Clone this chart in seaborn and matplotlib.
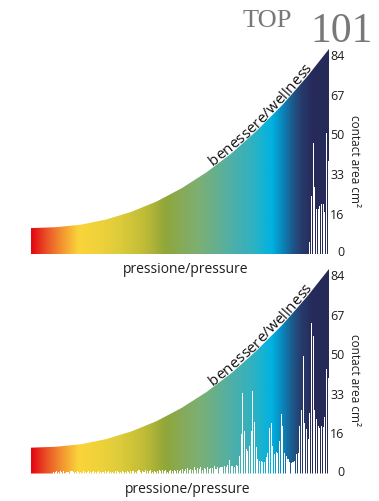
import numpy as np
import pandas as pd
import matplotlib
matplotlib.use("Agg")
import matplotlib.pyplot as plt
import matplotlib.transforms as mtransforms
from matplotlib.colors import LinearSegmentedColormap
from matplotlib.font_manager import FontProperties
import seaborn as sns

# ---------------- data ----------------
n_bins = 178  # pressure classes across the scale
tick_values = [0, 16, 33, 50, 67, 84]
tick_labels = ["0", "16", "33", "50", "67", "84"]
y_label = "contact area cm\u00b2"
x_label = "pressione/pressure"
curve_label = "benessere/wellness"

# envelope of the coloured scale (bin position, height in cm2)
envelope_pos = [-0.5, 14.5, 29.5, 44.5, 59.5, 74.5, 89.5, 104.5, 119.5, 134.5, 149.5, 164.5, 177.5]
envelope_val = [11.1, 11.5, 12.6, 14.8, 18.1, 22.5, 28.2, 35.1, 43.3, 53.0, 63.8, 76.1, 87.9]

# top mattress: contact area only in the highest pressure classes (bins 166..177)
top_contact = [0.0] * 166 + [5.0, 25.0, 47.6, 28.6, 19.3, 19.3, 20.7, 21.4, 21.4, 17.9, 51.7, 40.0]

# bottom mattress: contact area spread over the whole pressure range
bottom_contact = (
    [0.0] * 13
    + [0.8, 0.6, 1.0, 0.5, 0.9, 0.7, 1.1, 0.4, 0.8, 0.6,
       0.9, 1.0, 0.5, 0.7, 1.2, 0.6, 0.8, 0.4, 0.9, 0.7,
       0.5, 1.0, 0.6, 0.8, 0.9, 0.5, 0.7, 1.1, 0.6, 0.8,
       0.5, 0.9, 0.7, 1.0, 0.6, 0.8, 0.4, 0.9, 1.0, 0.6,
       0.7, 0.9, 0.5, 0.8, 1.0, 0.7, 0.9]
    + [0.9, 1.2, 0.7, 1.0, 1.4, 0.8, 1.1, 0.6, 1.3, 0.9,
       1.0, 1.5, 0.8, 1.2, 0.7, 1.1, 1.4, 0.9, 1.3, 1.0,
       1.6, 0.8, 1.2, 1.5, 1.0, 1.3, 0.9, 1.6, 1.2]
    + [1.5, 2.0, 1.2, 1.8, 2.4, 1.4, 2.1, 1.7, 2.6, 1.5,
       2.2, 1.9, 2.8, 1.6, 2.3, 2.0, 2.9, 1.8, 2.5, 2.2,
       3.1, 1.9, 2.7, 2.4, 3.0, 2.6, 3.3, 2.8, 3.5]
    + [6.0, 3.3, 3.3, 2.8, 3.7, 3.2, 7.6, 16.9, 34.6, 18.3,
       10.4, 9.7, 11.9, 18.3, 35.4, 22.0, 11.2, 6.2, 5.4, 5.2,
       4.8, 4.8, 6.9, 9.0, 19.7, 21.9, 11.9, 8.3, 9.3, 9.0,
       14.0, 25.4, 20.4, 9.0, 7.6, 6.2, 4.8, 4.5, 4.8, 5.4,
       8.3, 9.0, 20.4, 27.5, 50.3, 21.9, 19.0, 14.7, 26.0, 64.5,
       58.9, 27.5, 23.3, 20.4, 19.7, 20.4, 20.0, 24.5, 45.0, 41.0]
)

# ---------------- style ----------------
sns.set_theme(style="white")
plt.rcParams["font.family"] = ["Open Sans", "DejaVu Sans"]

W, H = 379, 502
fig = plt.figure(figsize=(W / 100, H / 100), dpi=100)
fig.patch.set_facecolor("white")

grad_cmap = LinearSegmentedColormap.from_list(
    "scale",
    [(0.000, "#e30613"), (0.047, "#ea4e26"), (0.097, "#f28f30"), (0.158, "#fbd43a"),
     (0.232, "#eed23b"), (0.300, "#dccb3a"), (0.380, "#c0bc37"), (0.450, "#90a739"),
     (0.517, "#84ab5e"), (0.567, "#7cb074"), (0.668, "#52afa5"), (0.752, "#2cb2c4"),
     (0.809, "#00b2e2"), (0.846, "#0a86bb"), (0.879, "#1c5a8c"), (0.909, "#263c6c"),
     (0.943, "#262b5b"), (1.000, "#262a58")])

ymax = envelope_val[-1]


def px_axes(top_px, bottom_px):
    return fig.add_axes([31 / W, 1 - bottom_px / H, 298 / W, (bottom_px - top_px) / H])


def draw_panel(ax, contact):
    poly = ax.fill_between(envelope_pos, 0, envelope_val, facecolor="none",
                           edgecolor="none")
    grad = np.linspace(0, 1, 600).reshape(1, -1)
    im = ax.imshow(grad, extent=(envelope_pos[0], envelope_pos[-1], 0, ymax),
                   aspect="auto", cmap=grad_cmap, interpolation="bilinear",
                   zorder=1, origin="lower")
    im.set_clip_path(poly.get_paths()[0], transform=ax.transData)

    df = pd.DataFrame({"bin": np.arange(n_bins), "contact": contact})
    sns.barplot(data=df, x="bin", y="contact", color="white", saturation=1,
                width=0.62, linewidth=0, errorbar=None, native_scale=True,
                ax=ax, zorder=3)

    ax.set_xlim(envelope_pos[0], envelope_pos[-1])
    ax.set_ylim(0, ymax)
    ax.set_xticks([])
    ax.set_xlabel("")
    for s in ax.spines.values():
        s.set_visible(False)
    ax.yaxis.tick_right()
    ax.set_yticks(tick_values)
    ax.set_yticklabels(tick_labels)
    ax.tick_params(axis="y", length=0, pad=11.2, labelsize=9, labelcolor="#1e1e1e")
    off = mtransforms.ScaledTranslation(0, 0.04, fig.dpi_scale_trans)
    for lbl in ax.get_yticklabels():
        lbl.set_horizontalalignment("right")
        lbl.set_transform(lbl.get_transform() + off)
    ax.yaxis.set_label_position("right")
    ax.set_ylabel(y_label, rotation=-90, fontsize=8.5, color="#1e1e1e")
    ax.yaxis.set_label_coords(1.109, 0.46)
    ax.set_facecolor("none")


ax_top = px_axes(50, 255)
ax_bot = px_axes(270, 474.5)
draw_panel(ax_top, top_contact)
draw_panel(ax_bot, bottom_contact)

# x labels
fig.text(186 / W, 1 - 273.5 / H, x_label, ha="center", va="baseline",
         fontsize=10, color="#1e1e1e")
fig.text(188 / W, 1 - 493 / H, x_label, ha="center", va="baseline",
         fontsize=10, color="#1e1e1e")

# header
fig.text(243 / W, 1 - 26.7 / H, "TOP", ha="left", va="baseline",
         fontsize=19, color="#787878", family="Liberation Serif")
fig.text(310 / W, 1 - 41.5 / H, "101", ha="left", va="baseline",
         fontsize=30, color="#787878", family="Liberation Serif")


def curved_text(ax, text, start_x_px, gap_px, size):
    fig.canvas.draw()
    r = fig.canvas.get_renderer()
    fp = FontProperties(family=["Open Sans", "DejaVu Sans"], size=size)
    pts = ax.transData.transform(np.column_stack([envelope_pos, envelope_val]))
    seglen = np.hypot(np.diff(pts[:, 0]), np.diff(pts[:, 1]))
    cum = np.concatenate([[0], np.cumsum(seglen)])

    def at(s):
        return np.array([np.interp(s, cum, pts[:, 0]), np.interp(s, cum, pts[:, 1])])

    s0 = np.interp(start_x_px, pts[:, 0], cum)
    widths = [0.0]
    for k in range(1, len(text) + 1):
        w, _, _ = r.get_text_width_height_descent(text[:k], fp, ismath=False)
        widths.append(w)
    for k, ch in enumerate(text):
        sc = s0 + (widths[k] + widths[k + 1]) / 2
        p1, p2 = at(sc - 6), at(sc + 6)
        th = np.arctan2(p2[1] - p1[1], p2[0] - p1[0])
        n = np.array([-np.sin(th), np.cos(th)])
        p = at(sc) + n * gap_px
        fig.text(p[0] / W, p[1] / H, ch, rotation=np.degrees(th),
                 rotation_mode="anchor", ha="center", va="baseline",
                 fontproperties=fp, color="#111111")


curved_text(ax_top, curve_label, 214, 2.0, 11)
curved_text(ax_bot, curve_label, 214, 2.0, 11)

fig.savefig("out.png", dpi=100, facecolor="white")
